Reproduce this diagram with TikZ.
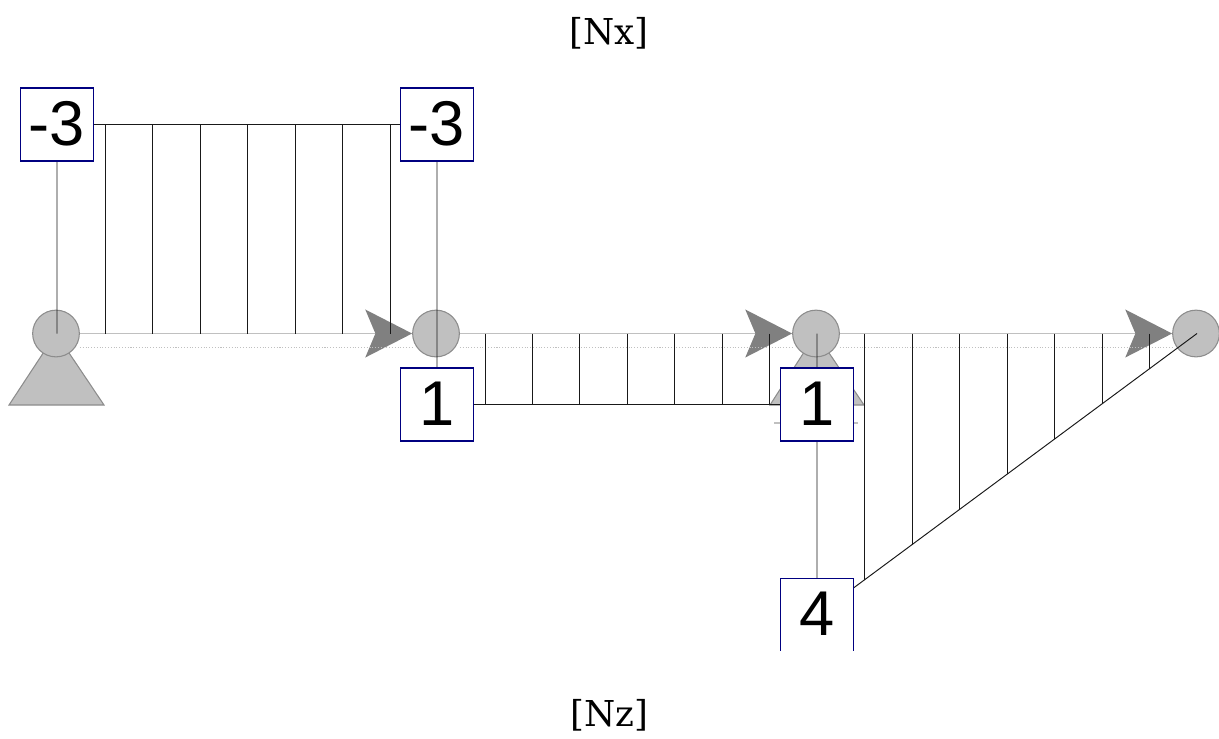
\documentclass[tikz,border=0pt]{standalone}
\usepackage{fontspec}
\setmainfont{DejaVu Serif}
\newfontfamily\boxfont{Liberation Sans}
\usetikzlibrary{arrows.meta}
\definecolor{beamgray}{HTML}{C0C0C0}
\definecolor{edgegray}{HTML}{8C8C8C}
\definecolor{tipgray}{HTML}{808080}
\begin{document}
\begin{tikzpicture}[x=0.02cm, y=-0.02cm,
    >={Stealth[length=26.6pt, width=27.2pt, inset=5.7pt, color=tipgray]},
    joint/.style={circle, draw=edgegray, fill=beamgray, line width=0.6pt, minimum size=26.6pt, inner sep=0pt, outer sep=0.3pt},
    beam/.style={draw=beamgray, line width=1.1pt},
    fibre/.style={draw=beamgray, line width=0.6pt, densely dotted},
    support/.style={draw=edgegray, fill=beamgray, line width=0.6pt},
    hatch/.style={draw=black!90, line width=0.55pt},
    valbox/.style={draw=blue!50!black, fill=white, line width=0.65pt, minimum size=41.6pt, inner sep=0pt, font=\boxfont\fontsize{36}{36}\selectfont},
    title/.style={font=\fontsize{20.3}{22}\selectfont}]
  \useasboundingbox (0,0) rectangle (1219,738);
  \node[title] (nx) at (609,33) {[Nx]};
  \node[title] (nz) at (609,715) {[Nz]};
  % supports
  \path[support] (56,333.5) -- (104,405) -- (9,405) -- cycle;
  \path[support] (816,333.5) -- (864,405) -- (770,405) -- cycle;
  \draw[beam] (774,423) -- (858,423);
  % joints and members
  \node[joint] (n1) at (56,333.5) {};
  \node[joint] (n2) at (436,333.5) {};
  \node[joint] (n3) at (816,333.5) {};
  \node[joint] (n4) at (1196,333.5) {};
  \foreach \a/\b in {n1/n2, n2/n3, n3/n4} {
    \draw[beam, ->] (\a) -- (\b);
    \draw[fibre] ([yshift=-8.2pt]\a.east) -- ([yshift=-8.2pt]\b.west);
  }
  % value points of the diagram
  \coordinate (a1) at (57,333.5);
  \coordinate (a2) at (437,333.5);
  \coordinate (a3) at (817,333.5);
  \coordinate (a4) at (1197,333.5);
  \coordinate (v1) at (57,124.5);
  \coordinate (v2) at (437,124.5);
  \coordinate (v3) at (437,404.5);
  \coordinate (v4) at (817,404.5);
  \coordinate (v5) at (817,615);
  % hatching
  \foreach \x in {105,152,200,247,295,342,390}
    \draw[hatch] (\x,124.5) -- (\x,333.5);
  \foreach \x in {485,532,579,627,674,722,769}
    \draw[hatch] (\x,333.5) -- (\x,404.5);
  \foreach \x in {864,912,959,1007,1054,1102,1149}
    \draw[hatch] (\x,333.5) -- (\x,{333.5+(1197-\x)*0.7408});
  \draw[hatch] (a1) -- (v1) -- (v2) -- (a2) -- (v3) -- (v4) -- (a3) -- (v5) -- (a4);
  % value boxes
  \node[valbox] (b1) at (v1) {\raisebox{1pt}{-3}};
  \node[valbox] (b2) at (v2) {\raisebox{1pt}{-3}};
  \node[valbox] (b3) at (v3) {\raisebox{1pt}{1}};
  \node[valbox] (b4) at (v4) {\raisebox{1pt}{1}};
  \begin{scope}
    \clip (0,0) rectangle (1219,650);
    \node[valbox] (b5) at (v5) {\raisebox{1.5pt}{4}};
  \end{scope}
\end{tikzpicture}
\end{document}
